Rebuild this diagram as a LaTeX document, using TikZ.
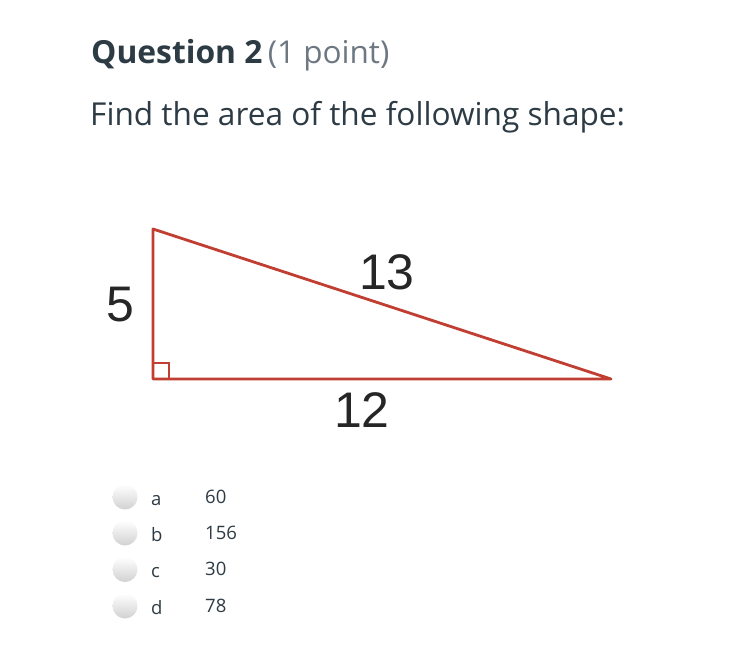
\documentclass[tikz,border=0pt]{standalone}
\usepackage{fontspec}
\setmainfont{Open Sans}
\newfontfamily\digitfont{Liberation Sans}
\definecolor{tri}{RGB}{192,62,50}
\definecolor{ink}{RGB}{45,59,69}
\definecolor{muted}{RGB}{110,120,130}
\begin{document}
\begin{tikzpicture}[x=1pt,y=-1pt,
  edge/.style={draw=tri,line width=2.8pt,line join=round},
  dlabel/.style={inner sep=0pt,font=\digitfont\fontsize{50}{50}\selectfont,text=black!85},
  radio/.style={circle,minimum size=25pt,inner sep=0pt,top color=white,bottom color=black!18,draw=none},
  optl/.style={anchor=base west,inner sep=0pt,text=ink,font=\fontsize{18.5}{20}\selectfont}]
\useasboundingbox (0,0) rectangle (750,658);
\fill[white] (0,0) rectangle (750,658);
\node[anchor=base west,inner sep=0pt,text=ink] (title) at (91,64)
  {\fontsize{31.8}{36}\selectfont\bfseries Question 2\,{\mdseries\color{muted}\fontsize{31.5}{36}\selectfont(1 point)}};
\node[anchor=base west,inner sep=0pt,text=ink] (prompt) at (90,126)
  {\fontsize{31.6}{36}\selectfont Find the area of the following shape:};
\coordinate (A) at (153,229);
\coordinate (B) at (153,379);
\coordinate (C) at (611,379);
\draw[edge] (A) -- (B) -- (C) -- cycle;
\draw[draw=tri,line width=2.2pt] (153,363) -- (169,363) -- (169,379);
\node[dlabel] (l5) at (120,305) {5};
\node[dlabel] (l13) at (387,272) {13};
\node[dlabel] (l12) at (362,410) {12};
\foreach \y/\l/\v [count=\i] in {497/a/60,533/b/156,569.5/c/30,606/d/78}{
  \node[radio] (r\i) at (125,\y) {};
  \node[optl] (k\i) at (151,\y+8) {\l};
  \node[optl] (v\i) at (205,\y+6) {\v};
}
\end{tikzpicture}
\end{document}
